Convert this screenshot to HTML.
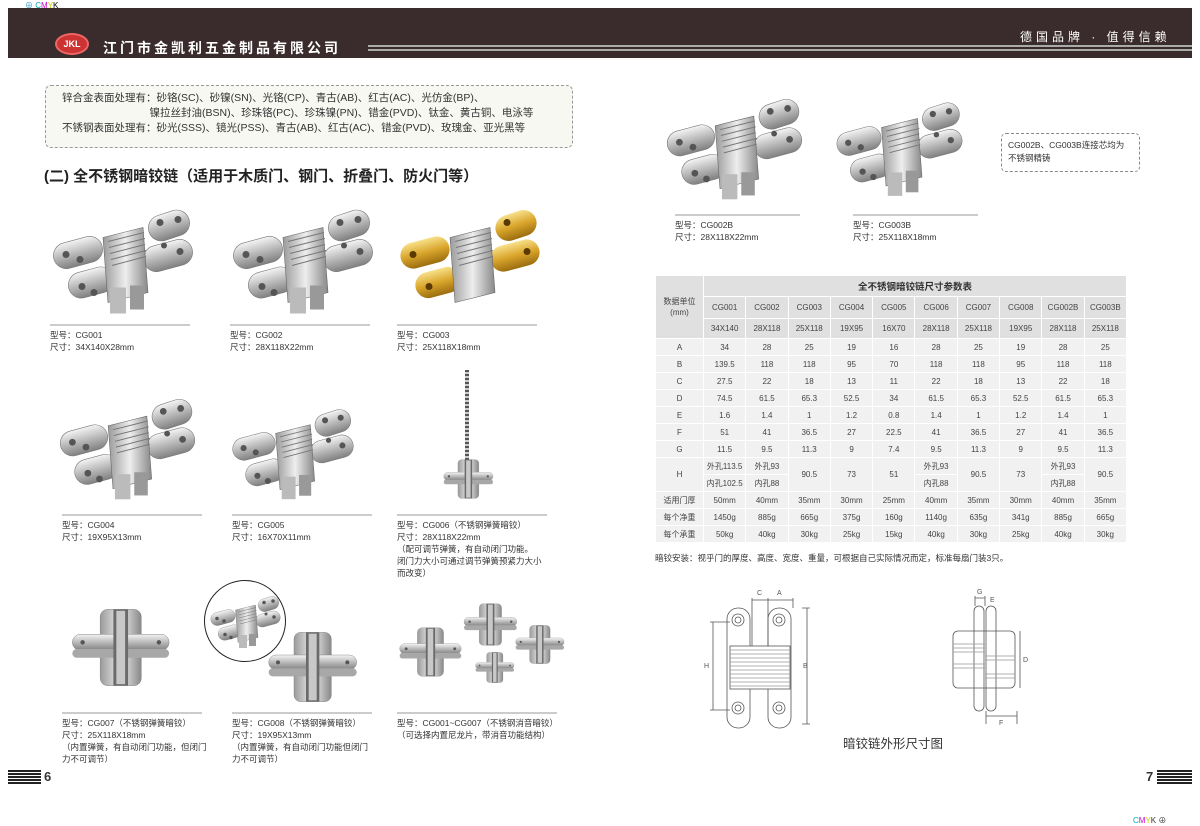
<!DOCTYPE html>
<html><head><meta charset="utf-8"><style>
*{margin:0;padding:0;box-sizing:border-box}
body{width:1200px;height:825px;background:#fff;position:relative;overflow:hidden;font-family:"Liberation Sans","Noto Sans CJK SC",sans-serif;color:#333}
.a{position:absolute}
.cap{position:absolute;font-size:8.5px;line-height:12px;color:#333;border-top:2px solid #ccc;padding-top:3px;width:140px;white-space:nowrap}
table{border-collapse:collapse;font-size:8px;color:#444;table-layout:fixed}
td{border:1px solid #fff;text-align:center;background:#f1f1f1;height:17px;padding:0;white-space:nowrap;overflow:hidden}
td.h{background:#e0e0e0}
</style></head><body>
<svg width="0" height="0" style="position:absolute">
<defs>
<linearGradient id="g1" x1="0" y1="0" x2="0" y2="1"><stop offset="0" stop-color="#f4f4f4"/><stop offset=".5" stop-color="#b9b9b9"/><stop offset="1" stop-color="#808080"/></linearGradient>
<linearGradient id="g2" x1="0" y1="0" x2="1" y2="0"><stop offset="0" stop-color="#9a9a9a"/><stop offset=".5" stop-color="#eee"/><stop offset="1" stop-color="#888"/></linearGradient>
<linearGradient id="gy" x1="0" y1="0" x2="0" y2="1"><stop offset="0" stop-color="#f8e08a"/><stop offset=".5" stop-color="#d9a52b"/><stop offset="1" stop-color="#9b6d10"/></linearGradient>
<symbol id="h" viewBox="0 0 150 110">
<rect x="100" y="5" width="42" height="26" rx="13" transform="rotate(-18 121 18)" fill="url(#g1)" stroke="#777" stroke-width=".6"/>
<rect x="5" y="32" width="50" height="26" rx="13" transform="rotate(-15 30 45)" fill="url(#g1)" stroke="#777" stroke-width=".6"/>
<rect x="95" y="35" width="50" height="26" rx="13" transform="rotate(-15 120 48)" fill="url(#g1)" stroke="#777" stroke-width=".6"/>
<rect x="20" y="62" width="46" height="26" rx="13" transform="rotate(-15 43 75)" fill="url(#g1)" stroke="#777" stroke-width=".6"/>
<path d="M55 30 L95 20 L100 85 L60 95 Z" fill="url(#g2)" stroke="#666" stroke-width=".6"/>
<path d="M60 34 L96 25 M61 40 L97 31 M62 46 L97 37 M63 52 L98 43 M64 58 L98 49" stroke="#777" stroke-width="1"/>
<rect x="62" y="80" width="16" height="26" fill="#bbb"/><rect x="82" y="78" width="14" height="24" fill="#999"/>
<circle cx="112" cy="15" r="3.5" fill="#555"/><circle cx="130" cy="12" r="3.5" fill="#555"/>
<circle cx="18" cy="47" r="3.5" fill="#555"/><circle cx="32" cy="52" r="3.5" fill="#555"/>
<circle cx="132" cy="44" r="3.5" fill="#555"/><circle cx="116" cy="38" r="3" fill="#555"/>
<circle cx="34" cy="79" r="3.5" fill="#555"/><circle cx="46" cy="85" r="3.5" fill="#555"/>
</symbol>
<symbol id="hy" viewBox="0 0 150 110">
<rect x="100" y="5" width="42" height="26" rx="13" transform="rotate(-18 121 18)" fill="url(#gy)"/>
<rect x="5" y="32" width="50" height="26" rx="13" transform="rotate(-15 30 45)" fill="url(#gy)"/>
<rect x="95" y="35" width="50" height="26" rx="13" transform="rotate(-15 120 48)" fill="url(#gy)"/>
<rect x="20" y="62" width="46" height="26" rx="13" transform="rotate(-15 43 75)" fill="url(#gy)"/>
<path d="M55 30 L95 20 L100 85 L60 95 Z" fill="url(#g2)" stroke="#666" stroke-width=".6"/>
<path d="M60 34 L96 25 M61 40 L97 31 M62 46 L97 37 M63 52 L98 43 M64 58 L98 49" stroke="#777"/>
<circle cx="112" cy="15" r="3.5" fill="#5a3a00"/><circle cx="18" cy="47" r="3.5" fill="#5a3a00"/><circle cx="132" cy="44" r="3.5" fill="#5a3a00"/><circle cx="34" cy="79" r="3.5" fill="#5a3a00"/>
</symbol>
<symbol id="x" viewBox="0 0 150 120">
<rect x="48" y="8" width="56" height="104" rx="10" fill="url(#g2)" stroke="#777" stroke-width=".6"/>
<rect x="10" y="42" width="132" height="22" rx="11" fill="url(#g1)" stroke="#777" stroke-width=".6"/>
<rect x="10" y="62" width="132" height="12" rx="6" fill="#a8a8a8"/>
<rect x="66" y="8" width="20" height="104" fill="#6a6a6a"/><rect x="70" y="10" width="12" height="100" fill="#c8c8c8"/>
<circle cx="24" cy="53" r="3" fill="#555"/><circle cx="128" cy="53" r="3" fill="#555"/>
</symbol>
</defs></svg>

<!-- header -->
<div class="a" style="left:8px;top:8px;width:1184px;height:50px;background:#3a2b2d"></div>
<div class="a" style="left:368px;top:45px;width:824px;height:2px;background:#aaa"></div>
<div class="a" style="left:368px;top:49px;width:824px;height:2px;background:#aaa"></div>
<div class="a" style="top:0;font-size:8px;left:25px;color:#39c">⊕ <span style="color:#0aa">C</span><span style="color:#c0c">M</span><span style="color:#cc0">Y</span><span style="color:#000">K</span></div>
<div class="a" style="left:55px;top:33px;width:34px;height:22px;border-radius:50%;background:#c33;border:2px solid #e66;color:#fff;font-size:9px;font-weight:bold;text-align:center;line-height:18px">JKL</div>
<div class="a" style="left:103px;top:38px;font-size:14px;color:#fff;font-weight:bold;letter-spacing:3px">江门市金凯利五金制品有限公司</div>
<div class="a" style="left:1020px;top:28px;font-size:12px;color:#fff;letter-spacing:4px">德国品牌 · 值得信赖</div>

<!-- surface box -->
<div class="a" style="left:45px;top:85px;width:528px;height:63px;border:1px dashed #999;border-radius:6px;background:#f8f8f3"></div>
<div class="a" style="left:62px;top:91px;font-size:10.5px;line-height:15px;color:#333;white-space:pre">锌合金表面处理有：砂铬(SC)、砂镍(SN)、光铬(CP)、青古(AB)、红古(AC)、光仿金(BP)、
                              镍拉丝封油(BSN)、珍珠铬(PC)、珍珠镍(PN)、错金(PVD)、钛金、黄古铜、电泳等
不锈钢表面处理有：砂光(SSS)、镜光(PSS)、青古(AB)、红古(AC)、错金(PVD)、玫瑰金、亚光黑等</div>
<div class="a" style="left:44px;top:165px;font-size:15px;font-weight:bold;color:#222">(二) 全不锈钢暗铰链（适用于木质门、钢门、折叠门、防火门等）</div>

<!-- row1 -->
<svg class="a" style="left:48px;top:205px" width="150" height="115"><use href="#h"/></svg>
<svg class="a" style="left:228px;top:205px" width="150" height="115"><use href="#h"/></svg>
<svg class="a" style="left:395px;top:205px" width="150" height="115"><use href="#hy"/></svg>
<div class="cap" style="left:50px;top:324px">型号：CG001<br>尺寸：34X140X28mm</div>
<div class="cap" style="left:230px;top:324px">型号：CG002<br>尺寸：28X118X22mm</div>
<div class="cap" style="left:397px;top:324px">型号：CG003<br>尺寸：25X118X18mm</div>

<!-- row2 -->
<svg class="a" style="left:55px;top:395px" width="145" height="110"><use href="#h"/></svg>
<svg class="a" style="left:228px;top:405px" width="130" height="100"><use href="#h"/></svg>
<div class="a" style="left:465px;top:370px;width:4px;height:90px;background:repeating-linear-gradient(#555 0 2px,#ccc 2px 4px)"></div>
<svg class="a" style="left:440px;top:450px" width="56" height="58"><use href="#x"/></svg>
<div class="cap" style="left:62px;top:514px">型号：CG004<br>尺寸：19X95X13mm</div>
<div class="cap" style="left:232px;top:514px">型号：CG005<br>尺寸：16X70X11mm</div>
<div class="cap" style="left:397px;top:514px;width:150px">型号：CG006（不锈钢弹簧暗铰）<br>尺寸：28X118X22mm<br>（配可调节弹簧，有自动闭门功能。<br>闭门力大小可通过调节弹簧预紧力大小<br>而改变）</div>

<!-- row3 -->
<svg class="a" style="left:65px;top:590px" width="110" height="115"><use href="#x"/></svg>
<div class="a" style="left:204px;top:580px;width:82px;height:82px;border:1px solid #222;border-radius:50%"></div>
<svg class="a" style="left:208px;top:595px" width="75" height="55"><use href="#h"/></svg>
<svg class="a" style="left:262px;top:622px" width="100" height="90"><use href="#x"/></svg>
<svg class="a" style="left:395px;top:622px" width="70" height="60"><use href="#x"/></svg>
<svg class="a" style="left:460px;top:592px" width="60" height="65"><use href="#x"/></svg>
<svg class="a" style="left:512px;top:622px" width="55" height="45"><use href="#x"/></svg>
<svg class="a" style="left:472px;top:650px" width="45" height="35"><use href="#x"/></svg>
<div class="cap" style="left:62px;top:712px">型号：CG007（不锈钢弹簧暗铰）<br>尺寸：25X118X18mm<br>（内置弹簧，有自动闭门功能，但闭门<br>力不可调节）</div>
<div class="cap" style="left:232px;top:712px">型号：CG008（不锈钢弹簧暗铰）<br>尺寸：19X95X13mm<br>（内置弹簧，有自动闭门功能但闭门<br>力不可调节）</div>
<div class="cap" style="left:397px;top:712px;width:160px">型号：CG001~CG007（不锈钢消音暗铰）<br>（可选择内置尼龙片，带消音功能结构）</div>

<!-- page numbers -->
<div class="a" style="left:8px;top:770px;width:33px;height:14px;background:repeating-linear-gradient(#222 0 2px,#fff 2px 3px)"></div>
<div class="a" style="left:44px;top:769px;font-size:13px;font-weight:bold">6</div>
<div class="a" style="left:1146px;top:769px;font-size:13px;font-weight:bold">7</div>
<div class="a" style="left:1157px;top:770px;width:35px;height:14px;background:repeating-linear-gradient(#222 0 2px,#fff 2px 3px)"></div>
<div class="a" style="left:1133px;top:815px;font-size:8px"><span style="color:#0aa">C</span><span style="color:#c0c">M</span><span style="color:#cc0">Y</span>K ⊕</div>

<!-- right top -->
<svg class="a" style="left:662px;top:95px" width="145" height="110"><use href="#h"/></svg>
<svg class="a" style="left:832px;top:100px" width="135" height="100"><use href="#h"/></svg>
<div class="cap" style="left:675px;top:214px;width:125px">型号：CG002B<br>尺寸：28X118X22mm</div>
<div class="cap" style="left:853px;top:214px;width:125px">型号：CG003B<br>尺寸：25X118X18mm</div>
<div class="a" style="left:1001px;top:133px;width:139px;height:39px;border:1px dashed #888;border-radius:5px;font-size:8.5px;line-height:13px;padding:5px 6px">CG002B、CG003B连接芯均为<br>不锈钢精铸</div>

<!-- table -->
<table class="a" style="left:655px;top:275px;width:471px">
<colgroup><col style="width:48px"><col span="10" style="width:42.3px"></colgroup>
<tr><td class="h" rowspan="3" style="line-height:11px">数据单位<br>(mm)</td><td class="h" colspan="10" style="height:21px;font-size:9.5px;font-weight:bold;color:#333">全不锈钢暗铰链尺寸参数表</td></tr>
<tr><td class="h" style="height:22px">CG001</td><td class="h">CG002</td><td class="h">CG003</td><td class="h">CG004</td><td class="h">CG005</td><td class="h">CG006</td><td class="h">CG007</td><td class="h">CG008</td><td class="h">CG002B</td><td class="h">CG003B</td></tr>
<tr><td class="h" style="height:20px">34X140</td><td class="h">28X118</td><td class="h">25X118</td><td class="h">19X95</td><td class="h">16X70</td><td class="h">28X118</td><td class="h">25X118</td><td class="h">19X95</td><td class="h">28X118</td><td class="h">25X118</td></tr>
<tr><td>A</td><td>34</td><td>28</td><td>25</td><td>19</td><td>16</td><td>28</td><td>25</td><td>19</td><td>28</td><td>25</td></tr>
<tr><td>B</td><td>139.5</td><td>118</td><td>118</td><td>95</td><td>70</td><td>118</td><td>118</td><td>95</td><td>118</td><td>118</td></tr>
<tr><td>C</td><td>27.5</td><td>22</td><td>18</td><td>13</td><td>11</td><td>22</td><td>18</td><td>13</td><td>22</td><td>18</td></tr>
<tr><td>D</td><td>74.5</td><td>61.5</td><td>65.3</td><td>52.5</td><td>34</td><td>61.5</td><td>65.3</td><td>52.5</td><td>61.5</td><td>65.3</td></tr>
<tr><td>E</td><td>1.6</td><td>1.4</td><td>1</td><td>1.2</td><td>0.8</td><td>1.4</td><td>1</td><td>1.2</td><td>1.4</td><td>1</td></tr>
<tr><td>F</td><td>51</td><td>41</td><td>36.5</td><td>27</td><td>22.5</td><td>41</td><td>36.5</td><td>27</td><td>41</td><td>36.5</td></tr>
<tr><td>G</td><td>11.5</td><td>9.5</td><td>11.3</td><td>9</td><td>7.4</td><td>9.5</td><td>11.3</td><td>9</td><td>9.5</td><td>11.3</td></tr>
<tr><td rowspan="2">H</td><td>外孔113.5</td><td>外孔93</td><td rowspan="2">90.5</td><td rowspan="2">73</td><td rowspan="2">51</td><td>外孔93</td><td rowspan="2">90.5</td><td rowspan="2">73</td><td>外孔93</td><td rowspan="2">90.5</td></tr>
<tr><td>内孔102.5</td><td>内孔88</td><td>内孔88</td><td>内孔88</td></tr>
<tr><td>适用门厚</td><td>50mm</td><td>40mm</td><td>35mm</td><td>30mm</td><td>25mm</td><td>40mm</td><td>35mm</td><td>30mm</td><td>40mm</td><td>35mm</td></tr>
<tr><td>每个净重</td><td>1450g</td><td>885g</td><td>665g</td><td>375g</td><td>160g</td><td>1140g</td><td>635g</td><td>341g</td><td>885g</td><td>665g</td></tr>
<tr><td>每个承重</td><td>50kg</td><td>40kg</td><td>30kg</td><td>25kg</td><td>15kg</td><td>40kg</td><td>30kg</td><td>25kg</td><td>40kg</td><td>30kg</td></tr>
</table>
<div class="a" style="left:655px;top:552px;font-size:8.5px;color:#333">暗铰安装：视乎门的厚度、高度、宽度、重量，可根据自己实际情况而定，标准每扇门装3只。</div>

<!-- drawing -->
<svg class="a" style="left:690px;top:578px" width="360" height="160" fill="none" stroke="#555" stroke-width=".8" font-family="Liberation Sans" font-size="7">
<rect x="37" y="30" width="23" height="120" rx="11"/>
<rect x="78" y="30" width="23" height="120" rx="11"/>
<circle cx="48" cy="42" r="6"/><circle cx="48" cy="42" r="3"/><circle cx="89" cy="42" r="6"/><circle cx="89" cy="42" r="3"/>
<circle cx="48" cy="130" r="6"/><circle cx="48" cy="130" r="3"/><circle cx="89" cy="130" r="6"/><circle cx="89" cy="130" r="3"/>
<rect x="40" y="68" width="60" height="43" fill="#fff"/>
<path d="M40 72H100M40 76H100M40 80H100M40 84H100M40 88H100M40 92H100M40 96H100M40 100H100M40 104H100M40 108H100" stroke="#999"/>
<path d="M62 20V68M78 20V68M103 20V30M62 22H103M117 30V146M112 30H120M112 146H120M23 44V132M20 44H40M20 132H40"/>
<text x="67" y="17" fill="#555" stroke="none">C</text><text x="87" y="17" fill="#555" stroke="none">A</text>
<text x="14" y="90" fill="#555" stroke="none">H</text><text x="113" y="90" fill="#555" stroke="none">B</text>
<rect x="263" y="53" width="62" height="57" rx="5"/>
<rect x="284" y="28" width="10" height="105" rx="5"/><rect x="296" y="28" width="10" height="105" rx="5"/>
<path d="M263 66H295M263 70H295M263 74H295M295 78H325M295 82H325M263 86H295M263 90H295M295 96H325M295 100H325" stroke="#999"/>
<path d="M285 18V28M295 18V28M285 20H295M330 53V110M296 138H327M296 133V146M327 133V146"/>
<text x="287" y="16" fill="#555" stroke="none">G</text><text x="300" y="24" fill="#555" stroke="none">E</text>
<text x="333" y="84" fill="#555" stroke="none">D</text><text x="309" y="147" fill="#555" stroke="none">F</text>
</svg>
<div class="a" style="left:843px;top:733px;font-size:12.5px;color:#333">暗铰链外形尺寸图</div>
</body></html>
